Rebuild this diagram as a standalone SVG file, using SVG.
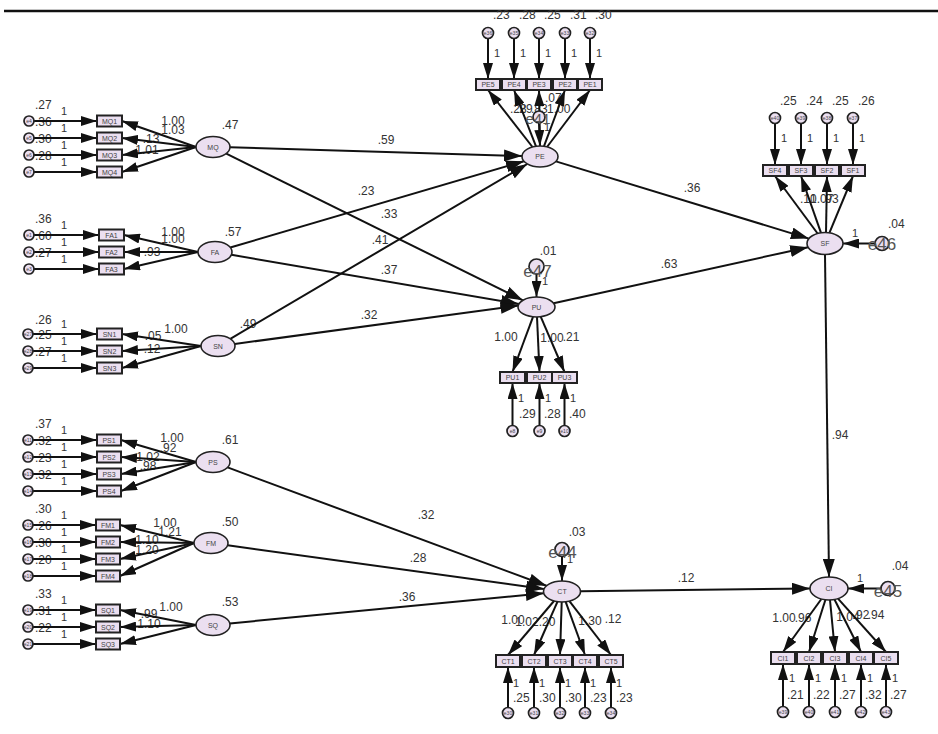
<svg xmlns="http://www.w3.org/2000/svg" width="938" height="734" viewBox="0 0 938 734">
<defs>
<marker id="ah" markerUnits="userSpaceOnUse" markerWidth="16" markerHeight="10" refX="16" refY="5" orient="auto"><path d="M0,0L16,5L0,10z" fill="#111"/></marker>
<marker id="ahL" markerUnits="userSpaceOnUse" markerWidth="18" markerHeight="12" refX="18" refY="6" orient="auto"><path d="M0,0L18,6L0,12z" fill="#111"/></marker>
</defs>
<style>
text{font-family:"Liberation Sans",Arial,sans-serif}
.n{font-size:12px;fill:#333}
.m{font-size:12px;fill:#333;text-anchor:middle}
.o{font-size:11px;fill:#333}
.lv ellipse{fill:#ebdff0;stroke:#222;stroke-width:1.6}
.ob rect{fill:#ebdff0;stroke:#222;stroke-width:2}
.er circle{fill:#ebdff0;stroke:#222;stroke-width:1.7}
.nm{font-size:7px;fill:#444;text-anchor:middle}
.en{font-size:5px;fill:#444;text-anchor:middle}
.dn{font-size:17px;fill:#555;text-anchor:middle}
#connectors line{stroke:#111;stroke-width:2;marker-end:url(#ah)}
#connectors .s line{marker-end:url(#ahL)}
</style>
<rect width="938" height="734" fill="#fff"/>
<line x1="4" y1="11" x2="938" y2="11" stroke="#111" stroke-width="2.5"/>

<g id="labels">
<text class="n" x="35" y="109">.27</text><text class="n" x="35" y="126">.36</text><text class="n" x="35" y="143">.30</text><text class="n" x="35" y="160">.28</text>
<text class="o" x="61" y="115">1</text><text class="o" x="61" y="132">1</text><text class="o" x="61" y="149">1</text><text class="o" x="61" y="166">1</text>
<text class="m" x="173" y="125">1.00</text><text class="m" x="173" y="134">1.03</text><text class="m" x="151" y="143">.13</text><text class="m" x="147" y="154">1.01</text>
<text class="m" x="230" y="129">.47</text>
<text class="n" x="35" y="223">.36</text><text class="n" x="35" y="240">.60</text><text class="n" x="35" y="257">.27</text>
<text class="o" x="61" y="229">1</text><text class="o" x="61" y="246">1</text><text class="o" x="61" y="263">1</text>
<text class="m" x="173" y="236">1.00</text><text class="m" x="173" y="243">1.00</text><text class="m" x="152" y="256">.93</text>
<text class="m" x="233" y="236">.57</text>
<text class="n" x="35" y="324">.26</text><text class="n" x="35" y="339">.25</text><text class="n" x="35" y="356">.27</text>
<text class="o" x="61" y="328">1</text><text class="o" x="61" y="345">1</text><text class="o" x="61" y="362">1</text>
<text class="m" x="176" y="333">1.00</text><text class="m" x="153" y="340">.05</text><text class="m" x="152" y="353">.12</text>
<text class="m" x="248" y="328">.49</text>
<text class="n" x="35" y="428">.37</text><text class="n" x="35" y="445">.32</text><text class="n" x="35" y="462">.23</text><text class="n" x="35" y="479">.32</text>
<text class="o" x="61" y="434">1</text><text class="o" x="61" y="451">1</text><text class="o" x="61" y="468">1</text><text class="o" x="61" y="485">1</text>
<text class="m" x="172" y="442">1.00</text><text class="m" x="168" y="452">.92</text><text class="m" x="148" y="461">1.02</text><text class="m" x="148" y="470">.98</text>
<text class="m" x="230" y="444">.61</text>
<text class="n" x="35" y="513">.30</text><text class="n" x="35" y="530">.26</text><text class="n" x="35" y="547">.30</text><text class="n" x="35" y="564">.20</text>
<text class="o" x="61" y="519">1</text><text class="o" x="61" y="536">1</text><text class="o" x="61" y="553">1</text><text class="o" x="61" y="570">1</text>
<text class="m" x="165" y="527">1.00</text><text class="m" x="170" y="536">1.21</text><text class="m" x="147" y="544">1.10</text><text class="m" x="147" y="554">1.20</text>
<text class="m" x="230" y="526">.50</text>
<text class="n" x="35" y="598">.33</text><text class="n" x="35" y="615">.31</text><text class="n" x="35" y="632">.22</text>
<text class="o" x="61" y="604">1</text><text class="o" x="61" y="621">1</text><text class="o" x="61" y="638">1</text>
<text class="m" x="171" y="611">1.00</text><text class="m" x="149" y="618">.99</text><text class="m" x="149" y="628">1.10</text>
<text class="m" x="230" y="606">.53</text>
<text class="m" x="386" y="144">.59</text>
<text class="m" x="366" y="195">.23</text>
<text class="m" x="389" y="218">.33</text>
<text class="m" x="380" y="244">.41</text>
<text class="m" x="389" y="274">.37</text>
<text class="m" x="369" y="319">.32</text>
<text class="m" x="692" y="192">.36</text>
<text class="m" x="669" y="268">.63</text>
<text class="m" x="840" y="439">.94</text>
<text class="m" x="426" y="519">.32</text>
<text class="m" x="418" y="562">.28</text>
<text class="m" x="407" y="601">.36</text>
<text class="m" x="686" y="582">.12</text>
<text class="n" x="493" y="19">.23</text><text class="n" x="519" y="19">.28</text><text class="n" x="544" y="19">.25</text><text class="n" x="570" y="19">.31</text><text class="n" x="595" y="19">.30</text>
<text class="o" x="494" y="57">1</text><text class="o" x="520" y="57">1</text><text class="o" x="545" y="57">1</text><text class="o" x="571" y="57">1</text><text class="o" x="596" y="57">1</text>
<text class="n" x="545" y="102">.07</text>
<text class="n" x="510" y="113">.28</text><text class="n" x="516" y="113">.29</text><text class="n" x="531" y="113">.83</text><text class="n" x="547" y="113">1.00</text>
<text class="o" x="544" y="131">1</text>
<text class="m" x="548" y="255">.01</text>
<text class="o" x="542" y="285">1</text>
<text class="m" x="506" y="341">1.00</text><text class="m" x="552" y="342">1.00</text><text class="m" x="571" y="341">.21</text>
<text class="o" x="518" y="402">1</text><text class="o" x="545" y="402">1</text><text class="o" x="570" y="402">1</text>
<text class="n" x="519" y="418">.29</text><text class="n" x="544" y="418">.28</text><text class="n" x="569" y="418">.40</text>
<text class="n" x="780" y="105">.25</text><text class="n" x="806" y="105">.24</text><text class="n" x="832" y="105">.25</text><text class="n" x="858" y="105">.26</text>
<text class="o" x="781" y="142">1</text><text class="o" x="807" y="142">1</text><text class="o" x="833" y="142">1</text><text class="o" x="859" y="142">1</text>
<text class="n" x="800" y="203">.10</text><text class="n" x="810" y="203">1.07</text><text class="n" x="822" y="203">.93</text>
<text class="n" x="888" y="228">.04</text>
<text class="o" x="852" y="237">1</text>
<text class="m" x="577" y="536">.03</text>
<text class="o" x="567" y="563">1</text>
<text class="m" x="513" y="624">1.00</text><text class="m" x="527" y="626">1.02</text><text class="m" x="547" y="626">.20</text><text class="m" x="590" y="625">1.30</text><text class="m" x="613" y="623">.12</text>
<text class="o" x="513" y="687">1</text><text class="o" x="539" y="687">1</text><text class="o" x="565" y="687">1</text><text class="o" x="590" y="687">1</text><text class="o" x="616" y="687">1</text>
<text class="n" x="513" y="702">.25</text><text class="n" x="539" y="702">.30</text><text class="n" x="565" y="702">.30</text><text class="n" x="590" y="702">.23</text><text class="n" x="616" y="702">.23</text>
<text class="m" x="900" y="570">.04</text>
<text class="o" x="857" y="582">1</text>
<text class="m" x="784" y="622">1.00</text><text class="m" x="803" y="622">.96</text><text class="m" x="848" y="621">1.04</text><text class="m" x="861" y="619">.92</text><text class="m" x="876" y="619">.94</text>
<text class="o" x="789" y="682">1</text><text class="o" x="815" y="682">1</text><text class="o" x="841" y="682">1</text><text class="o" x="867" y="682">1</text><text class="o" x="892" y="682">1</text>
<text class="n" x="787" y="699">.21</text><text class="n" x="813" y="699">.22</text><text class="n" x="839" y="699">.27</text><text class="n" x="865" y="699">.32</text><text class="n" x="890" y="699">.27</text>
</g>

<g id="connectors">
<line x1="34" y1="121" x2="97" y2="121"/><line x1="34" y1="138" x2="97" y2="138"/><line x1="34" y1="155" x2="97" y2="155"/><line x1="34" y1="172" x2="97" y2="172"/>
<line x1="34" y1="235" x2="99" y2="235"/><line x1="34" y1="252" x2="99" y2="252"/><line x1="34" y1="269" x2="99" y2="269"/>
<line x1="33" y1="334" x2="97" y2="334"/><line x1="33" y1="351" x2="97" y2="351"/><line x1="33" y1="368" x2="97" y2="368"/>
<line x1="33" y1="440" x2="97" y2="440"/><line x1="33" y1="457" x2="97" y2="457"/><line x1="33" y1="474" x2="97" y2="474"/><line x1="33" y1="491" x2="97" y2="491"/>
<line x1="33" y1="525" x2="96" y2="525"/><line x1="33" y1="542" x2="96" y2="542"/><line x1="33" y1="559" x2="96" y2="559"/><line x1="33" y1="576" x2="96" y2="576"/>
<line x1="33" y1="610" x2="96" y2="610"/><line x1="33" y1="627" x2="96" y2="627"/><line x1="33" y1="644" x2="96" y2="644"/>
<line x1="196" y1="147" x2="122" y2="121"/><line x1="196" y1="147" x2="122" y2="138"/><line x1="196" y1="147" x2="122" y2="155"/><line x1="196" y1="147" x2="122" y2="172"/>
<line x1="198" y1="252" x2="124" y2="235"/><line x1="198" y1="252" x2="124" y2="252"/><line x1="198" y1="252" x2="124" y2="269"/>
<line x1="201" y1="346" x2="122" y2="334"/><line x1="201" y1="346" x2="122" y2="351"/><line x1="201" y1="346" x2="122" y2="368"/>
<line x1="196" y1="462" x2="121" y2="440"/><line x1="196" y1="462" x2="121" y2="457"/><line x1="196" y1="462" x2="121" y2="474"/><line x1="196" y1="462" x2="121" y2="491"/>
<line x1="194" y1="543" x2="120" y2="525"/><line x1="194" y1="543" x2="120" y2="542"/><line x1="194" y1="543" x2="120" y2="559"/><line x1="194" y1="543" x2="120" y2="576"/>
<line x1="196" y1="625" x2="120" y2="610"/><line x1="196" y1="625" x2="120" y2="627"/><line x1="196" y1="625" x2="120" y2="644"/>
<line x1="488" y1="38.5" x2="488" y2="79"/><line x1="514" y1="38.5" x2="514" y2="79"/><line x1="539" y1="38.5" x2="539" y2="79"/><line x1="565" y1="38.5" x2="565" y2="79"/><line x1="590" y1="38.5" x2="590" y2="79"/>
<line x1="532.5" y1="147" x2="488" y2="90"/><line x1="536" y1="146.3" x2="514" y2="90"/><line x1="540" y1="146" x2="539" y2="90"/><line x1="544" y1="146.2" x2="565" y2="90"/><line x1="547" y1="147" x2="590" y2="90"/>
<line x1="539" y1="123" x2="540" y2="146"/>
<line x1="775" y1="123.5" x2="775" y2="165"/><line x1="801" y1="123.5" x2="801" y2="165"/><line x1="827" y1="123.5" x2="827" y2="165"/><line x1="853" y1="123.5" x2="853" y2="165"/>
<line x1="817.6" y1="233.5" x2="775" y2="176"/><line x1="821" y1="232.8" x2="801" y2="176"/><line x1="826" y1="232.5" x2="827" y2="176"/><line x1="829.4" y1="232.8" x2="853" y2="176"/>
<line x1="875" y1="243.5" x2="843" y2="243.5"/>
<line x1="533" y1="316.8" x2="512.5" y2="372"/><line x1="537" y1="317" x2="539.5" y2="372"/><line x1="540.7" y1="316.7" x2="564.5" y2="372"/>
<line x1="512.5" y1="425.5" x2="512.5" y2="383"/><line x1="539.5" y1="425.5" x2="539.5" y2="383"/><line x1="564.5" y1="425.5" x2="564.5" y2="383"/>
<line x1="536.5" y1="274" x2="536.5" y2="297"/>
<line x1="554" y1="601" x2="508" y2="655"/><line x1="557.5" y1="601.7" x2="534" y2="655"/><line x1="561.7" y1="602" x2="560" y2="655"/><line x1="565.7" y1="601.8" x2="585" y2="655"/><line x1="569.4" y1="601.1" x2="611" y2="655"/>
<line x1="508" y1="707.5" x2="508" y2="667"/><line x1="534" y1="707.5" x2="534" y2="667"/><line x1="560" y1="707.5" x2="560" y2="667"/><line x1="585" y1="707.5" x2="585" y2="667"/><line x1="611" y1="707.5" x2="611" y2="667"/>
<line x1="562" y1="556.5" x2="562" y2="581"/>
<line x1="821.4" y1="599" x2="783" y2="652"/><line x1="825.4" y1="599.8" x2="809" y2="652"/><line x1="830" y1="600" x2="835" y2="652"/><line x1="834.5" y1="599.5" x2="861" y2="652"/><line x1="838" y1="598.6" x2="886" y2="652"/>
<line x1="783" y1="706.5" x2="783" y2="664"/><line x1="809" y1="706.5" x2="809" y2="664"/><line x1="835" y1="706.5" x2="835" y2="664"/><line x1="861" y1="706.5" x2="861" y2="664"/><line x1="886" y1="706.5" x2="886" y2="664"/>
<line x1="881" y1="588.5" x2="848" y2="588.5"/>
<g class="s">
<line x1="230" y1="147.3" x2="522" y2="156"/>
<line x1="226.3" y1="153.6" x2="522.9" y2="300.3"/>
<line x1="230.3" y1="247.5" x2="523.9" y2="161.2"/>
<line x1="231.4" y1="254.8" x2="518.9" y2="304"/>
<line x1="230.3" y1="338.8" x2="527.3" y2="164"/>
<line x1="234.7" y1="344" x2="518.5" y2="305.5"/>
<line x1="555.9" y1="161.4" x2="808.9" y2="238.6"/>
<line x1="553.6" y1="303.2" x2="808.1" y2="247.2"/>
<line x1="825" y1="254.5" x2="829" y2="577"/>
<line x1="227.6" y1="467.4" x2="546.5" y2="585.8"/>
<line x1="227.6" y1="545.3" x2="544" y2="589"/>
<line x1="229.8" y1="623.4" x2="543.8" y2="593.3"/>
<line x1="580.5" y1="591.3" x2="810" y2="588.5"/>
</g>
</g>

<g id="MQ" class="lv"><ellipse cx="213" cy="147" rx="17" ry="10.5"/><text class="nm" x="213" y="149.5">MQ</text></g>
<g id="FA" class="lv"><ellipse cx="215" cy="252" rx="17" ry="10.5"/><text class="nm" x="215" y="254.5">FA</text></g>
<g id="SN" class="lv"><ellipse cx="218" cy="346" rx="17" ry="10.5"/><text class="nm" x="218" y="348.5">SN</text></g>
<g id="PS" class="lv"><ellipse cx="213" cy="462" rx="17" ry="10.5"/><text class="nm" x="213" y="464.5">PS</text></g>
<g id="FM" class="lv"><ellipse cx="211" cy="543" rx="17" ry="10.5"/><text class="nm" x="211" y="545.5">FM</text></g>
<g id="SQ" class="lv"><ellipse cx="213" cy="625" rx="17" ry="10.5"/><text class="nm" x="213" y="627.5">SQ</text></g>
<g id="PE" class="lv"><ellipse cx="540" cy="156.5" rx="18" ry="10.5"/><text class="nm" x="540" y="159">PE</text></g>
<g id="PU" class="lv"><ellipse cx="536.5" cy="307" rx="18.5" ry="10"/><text class="nm" x="536.5" y="309.5">PU</text></g>
<g id="SF" class="lv"><ellipse cx="825" cy="243.5" rx="18" ry="11"/><text class="nm" x="825" y="246">SF</text></g>
<g id="CT" class="lv"><ellipse cx="562" cy="591.5" rx="18.5" ry="10.5"/><text class="nm" x="562" y="594">CT</text></g>
<g id="CI" class="lv"><ellipse cx="829" cy="588.5" rx="19" ry="11.5"/><text class="nm" x="829" y="591">CI</text></g>

<g id="MQ1" class="ob"><rect x="97" y="115.5" width="25" height="11"/><text class="nm" x="109.5" y="123.5">MQ1</text></g>
<g id="MQ2" class="ob"><rect x="97" y="132.5" width="25" height="11"/><text class="nm" x="109.5" y="140.5">MQ2</text></g>
<g id="MQ3" class="ob"><rect x="97" y="149.5" width="25" height="11"/><text class="nm" x="109.5" y="157.5">MQ3</text></g>
<g id="MQ4" class="ob"><rect x="97" y="166.5" width="25" height="11"/><text class="nm" x="109.5" y="174.5">MQ4</text></g>
<g id="FA1" class="ob"><rect x="99" y="229.5" width="25" height="11"/><text class="nm" x="111.5" y="237.5">FA1</text></g>
<g id="FA2" class="ob"><rect x="99" y="246.5" width="25" height="11"/><text class="nm" x="111.5" y="254.5">FA2</text></g>
<g id="FA3" class="ob"><rect x="99" y="263.5" width="25" height="11"/><text class="nm" x="111.5" y="271.5">FA3</text></g>
<g id="SN1" class="ob"><rect x="97" y="328.5" width="25" height="11"/><text class="nm" x="109.5" y="336.5">SN1</text></g>
<g id="SN2" class="ob"><rect x="97" y="345.5" width="25" height="11"/><text class="nm" x="109.5" y="353.5">SN2</text></g>
<g id="SN3" class="ob"><rect x="97" y="362.5" width="25" height="11"/><text class="nm" x="109.5" y="370.5">SN3</text></g>
<g id="PS1" class="ob"><rect x="97" y="434.5" width="24" height="11"/><text class="nm" x="109" y="442.5">PS1</text></g>
<g id="PS2" class="ob"><rect x="97" y="451.5" width="24" height="11"/><text class="nm" x="109" y="459.5">PS2</text></g>
<g id="PS3" class="ob"><rect x="97" y="468.5" width="24" height="11"/><text class="nm" x="109" y="476.5">PS3</text></g>
<g id="PS4" class="ob"><rect x="97" y="485.5" width="24" height="11"/><text class="nm" x="109" y="493.5">PS4</text></g>
<g id="FM1" class="ob"><rect x="96" y="519.5" width="24" height="11"/><text class="nm" x="108" y="527.5">FM1</text></g>
<g id="FM2" class="ob"><rect x="96" y="536.5" width="24" height="11"/><text class="nm" x="108" y="544.5">FM2</text></g>
<g id="FM3" class="ob"><rect x="96" y="553.5" width="24" height="11"/><text class="nm" x="108" y="561.5">FM3</text></g>
<g id="FM4" class="ob"><rect x="96" y="570.5" width="24" height="11"/><text class="nm" x="108" y="578.5">FM4</text></g>
<g id="SQ1" class="ob"><rect x="96" y="604.5" width="24" height="11"/><text class="nm" x="108" y="612.5">SQ1</text></g>
<g id="SQ2" class="ob"><rect x="96" y="621.5" width="24" height="11"/><text class="nm" x="108" y="629.5">SQ2</text></g>
<g id="SQ3" class="ob"><rect x="96" y="638.5" width="24" height="11"/><text class="nm" x="108" y="646.5">SQ3</text></g>
<g id="PE5" class="ob"><rect x="476" y="79" width="24" height="11"/><text class="nm" x="488" y="87">PE5</text></g>
<g id="PE4" class="ob"><rect x="502" y="79" width="24" height="11"/><text class="nm" x="514" y="87">PE4</text></g>
<g id="PE3" class="ob"><rect x="527" y="79" width="24" height="11"/><text class="nm" x="539" y="87">PE3</text></g>
<g id="PE2" class="ob"><rect x="553" y="79" width="24" height="11"/><text class="nm" x="565" y="87">PE2</text></g>
<g id="PE1" class="ob"><rect x="578" y="79" width="24" height="11"/><text class="nm" x="590" y="87">PE1</text></g>
<g id="SF4" class="ob"><rect x="763" y="165" width="24" height="11"/><text class="nm" x="775" y="173">SF4</text></g>
<g id="SF3" class="ob"><rect x="789" y="165" width="24" height="11"/><text class="nm" x="801" y="173">SF3</text></g>
<g id="SF2" class="ob"><rect x="815" y="165" width="24" height="11"/><text class="nm" x="827" y="173">SF2</text></g>
<g id="SF1" class="ob"><rect x="841" y="165" width="24" height="11"/><text class="nm" x="853" y="173">SF1</text></g>
<g id="PU1" class="ob"><rect x="500" y="372" width="25" height="11"/><text class="nm" x="512.5" y="380">PU1</text></g>
<g id="PU2" class="ob"><rect x="527" y="372" width="25" height="11"/><text class="nm" x="539.5" y="380">PU2</text></g>
<g id="PU3" class="ob"><rect x="552" y="372" width="25" height="11"/><text class="nm" x="564.5" y="380">PU3</text></g>
<g id="CT1" class="ob"><rect x="496" y="655" width="24" height="12"/><text class="nm" x="508" y="663.5">CT1</text></g>
<g id="CT2" class="ob"><rect x="522" y="655" width="24" height="12"/><text class="nm" x="534" y="663.5">CT2</text></g>
<g id="CT3" class="ob"><rect x="548" y="655" width="24" height="12"/><text class="nm" x="560" y="663.5">CT3</text></g>
<g id="CT4" class="ob"><rect x="573" y="655" width="24" height="12"/><text class="nm" x="585" y="663.5">CT4</text></g>
<g id="CT5" class="ob"><rect x="599" y="655" width="24" height="12"/><text class="nm" x="611" y="663.5">CT5</text></g>
<g id="CI1" class="ob"><rect x="771" y="652" width="24" height="12"/><text class="nm" x="783" y="660.5">CI1</text></g>
<g id="CI2" class="ob"><rect x="797" y="652" width="24" height="12"/><text class="nm" x="809" y="660.5">CI2</text></g>
<g id="CI3" class="ob"><rect x="823" y="652" width="24" height="12"/><text class="nm" x="835" y="660.5">CI3</text></g>
<g id="CI4" class="ob"><rect x="849" y="652" width="24" height="12"/><text class="nm" x="861" y="660.5">CI4</text></g>
<g id="CI5" class="ob"><rect x="874" y="652" width="24" height="12"/><text class="nm" x="886" y="660.5">CI5</text></g>

<g id="e4" class="er"><circle cx="29" cy="121" r="5"/><text class="en" x="29" y="122.8">e4</text></g>
<g id="e5" class="er"><circle cx="29" cy="138" r="5"/><text class="en" x="29" y="139.8">e5</text></g>
<g id="e6" class="er"><circle cx="29" cy="155" r="5"/><text class="en" x="29" y="156.8">e6</text></g>
<g id="e7" class="er"><circle cx="29" cy="172" r="5"/><text class="en" x="29" y="173.8">e7</text></g>
<g id="e1" class="er"><circle cx="29" cy="235" r="5"/><text class="en" x="29" y="236.8">e1</text></g>
<g id="e2" class="er"><circle cx="29" cy="252" r="5"/><text class="en" x="29" y="253.8">e2</text></g>
<g id="e3" class="er"><circle cx="29" cy="269" r="5"/><text class="en" x="29" y="270.8">e3</text></g>
<g id="e27" class="er"><circle cx="28" cy="334" r="5"/><text class="en" x="28" y="335.8">e27</text></g>
<g id="e28" class="er"><circle cx="28" cy="351" r="5"/><text class="en" x="28" y="352.8">e28</text></g>
<g id="e29" class="er"><circle cx="28" cy="368" r="5"/><text class="en" x="28" y="369.8">e29</text></g>
<g id="e11" class="er"><circle cx="28" cy="440" r="5"/><text class="en" x="28" y="441.8">e11</text></g>
<g id="e12" class="er"><circle cx="28" cy="457" r="5"/><text class="en" x="28" y="458.8">e12</text></g>
<g id="e13" class="er"><circle cx="28" cy="474" r="5"/><text class="en" x="28" y="475.8">e13</text></g>
<g id="e14" class="er"><circle cx="28" cy="491" r="5"/><text class="en" x="28" y="492.8">e14</text></g>
<g id="e15" class="er"><circle cx="28" cy="525" r="5"/><text class="en" x="28" y="526.8">e15</text></g>
<g id="e16" class="er"><circle cx="28" cy="542" r="5"/><text class="en" x="28" y="543.8">e16</text></g>
<g id="e17" class="er"><circle cx="28" cy="559" r="5"/><text class="en" x="28" y="560.8">e17</text></g>
<g id="e18" class="er"><circle cx="28" cy="576" r="5"/><text class="en" x="28" y="577.8">e18</text></g>
<g id="e19" class="er"><circle cx="28" cy="610" r="5"/><text class="en" x="28" y="611.8">e19</text></g>
<g id="e20" class="er"><circle cx="28" cy="627" r="5"/><text class="en" x="28" y="628.8">e20</text></g>
<g id="e21" class="er"><circle cx="28" cy="644" r="5"/><text class="en" x="28" y="645.8">e21</text></g>
<g id="e36" class="er"><circle cx="488" cy="33" r="5.5"/><text class="en" x="488" y="34.8">e36</text></g>
<g id="e35" class="er"><circle cx="514" cy="33" r="5.5"/><text class="en" x="514" y="34.8">e35</text></g>
<g id="e34" class="er"><circle cx="539" cy="33" r="5.5"/><text class="en" x="539" y="34.8">e34</text></g>
<g id="e33" class="er"><circle cx="565" cy="33" r="5.5"/><text class="en" x="565" y="34.8">e33</text></g>
<g id="e32" class="er"><circle cx="590" cy="33" r="5.5"/><text class="en" x="590" y="34.8">e32</text></g>
<g id="e40" class="er"><circle cx="775" cy="118" r="5.5"/><text class="en" x="775" y="119.8">e40</text></g>
<g id="e39" class="er"><circle cx="801" cy="118" r="5.5"/><text class="en" x="801" y="119.8">e39</text></g>
<g id="e38" class="er"><circle cx="827" cy="118" r="5.5"/><text class="en" x="827" y="119.8">e38</text></g>
<g id="e37" class="er"><circle cx="853" cy="118" r="5.5"/><text class="en" x="853" y="119.8">e37</text></g>
<g id="e8" class="er"><circle cx="512.5" cy="431" r="5.5"/><text class="en" x="512.5" y="432.8">e8</text></g>
<g id="e9" class="er"><circle cx="539.5" cy="431" r="5.5"/><text class="en" x="539.5" y="432.8">e9</text></g>
<g id="e10" class="er"><circle cx="564.5" cy="431" r="5.5"/><text class="en" x="564.5" y="432.8">e10</text></g>
<g id="e30" class="er"><circle cx="508" cy="713" r="5.5"/><text class="en" x="508" y="714.8">e30</text></g>
<g id="e31" class="er"><circle cx="534" cy="713" r="5.5"/><text class="en" x="534" y="714.8">e31</text></g>
<g id="e32b" class="er"><circle cx="560" cy="713" r="5.5"/><text class="en" x="560" y="714.8">e32</text></g>
<g id="e33b" class="er"><circle cx="585" cy="713" r="5.5"/><text class="en" x="585" y="714.8">e33</text></g>
<g id="e34b" class="er"><circle cx="611" cy="713" r="5.5"/><text class="en" x="611" y="714.8">e34</text></g>
<g id="e39b" class="er"><circle cx="783" cy="712" r="5.5"/><text class="en" x="783" y="713.8">e39</text></g>
<g id="e40b" class="er"><circle cx="809" cy="712" r="5.5"/><text class="en" x="809" y="713.8">e40</text></g>
<g id="e41b" class="er"><circle cx="835" cy="712" r="5.5"/><text class="en" x="835" y="713.8">e41</text></g>
<g id="e42" class="er"><circle cx="861" cy="712" r="5.5"/><text class="en" x="861" y="713.8">e42</text></g>
<g id="e43" class="er"><circle cx="886" cy="712" r="5.5"/><text class="en" x="886" y="713.8">e43</text></g>

<g id="e41" class="er"><circle cx="539" cy="117" r="6"/><text class="dn" x="538" y="124" style="font-size:15px">e41</text></g>
<g id="e47" class="er"><circle cx="536.5" cy="266.5" r="7.5"/><text class="dn" x="537.5" y="277">e47</text></g>
<g id="e46" class="er"><circle cx="882" cy="243.5" r="7"/><text class="dn" x="882" y="250">e46</text></g>
<g id="e44" class="er"><circle cx="562" cy="549.5" r="7"/><text class="dn" x="562.5" y="558">e44</text></g>
<g id="e45" class="er"><circle cx="888" cy="588.5" r="7"/><text class="dn" x="888" y="597">e45</text></g>
</svg>
